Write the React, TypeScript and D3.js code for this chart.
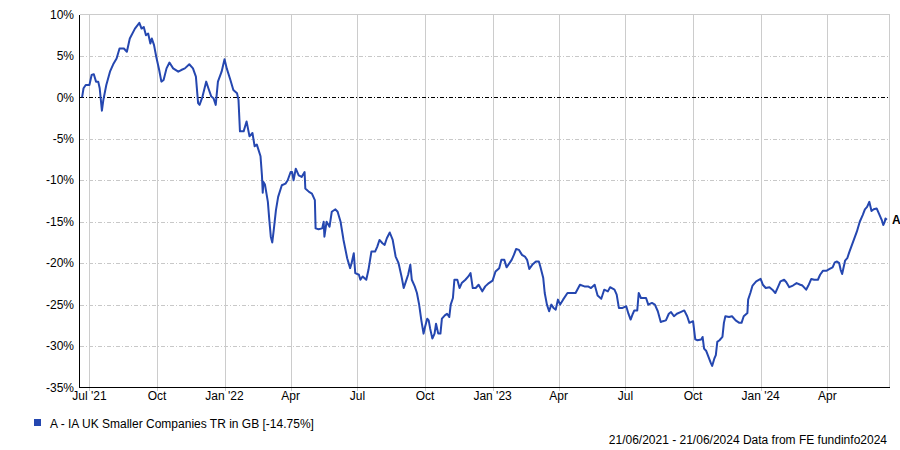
import React from "react";
import * as d3 from "d3";

const dates: string[] = [
  "2021-06-21","2021-06-23","2021-06-26","2021-07-01","2021-07-04","2021-07-07","2021-07-10","2021-07-13","2021-07-15","2021-07-18",
  "2021-07-20","2021-07-24","2021-07-29","2021-08-03","2021-08-07","2021-08-11","2021-08-17","2021-08-21","2021-08-25","2021-09-01",
  "2021-09-07","2021-09-10","2021-09-13","2021-09-16","2021-09-19","2021-09-22","2021-09-24","2021-09-27","2021-09-30","2021-10-04",
  "2021-10-07","2021-10-10","2021-10-14","2021-10-18","2021-10-23","2021-10-30","2021-11-03","2021-11-08","2021-11-14","2021-11-19",
  "2021-11-23","2021-11-26","2021-11-28","2021-12-02","2021-12-07","2021-12-10","2021-12-14","2021-12-17","2021-12-20","2021-12-23",
  "2021-12-28","2022-01-01","2022-01-04","2022-01-09","2022-01-13","2022-01-18","2022-01-20","2022-01-22","2022-01-27","2022-01-31",
  "2022-02-04","2022-02-08","2022-02-11","2022-02-14","2022-02-19","2022-02-21","2022-02-22","2022-02-23","2022-02-25","2022-03-01",
  "2022-03-03","2022-03-05","2022-03-07","2022-03-09","2022-03-12","2022-03-15","2022-03-20","2022-03-25","2022-03-28","2022-04-01",
  "2022-04-03","2022-04-05","2022-04-08","2022-04-12","2022-04-16","2022-04-20","2022-04-21","2022-04-26","2022-04-30","2022-05-04",
  "2022-05-05","2022-05-09","2022-05-14","2022-05-16","2022-05-17","2022-05-20","2022-05-24","2022-05-27","2022-06-01","2022-06-04",
  "2022-06-08","2022-06-12","2022-06-17","2022-06-21","2022-06-23","2022-06-26","2022-06-28","2022-07-03","2022-07-05","2022-07-08",
  "2022-07-13","2022-07-16","2022-07-20","2022-07-25","2022-07-28","2022-07-31","2022-08-04","2022-08-07","2022-08-10","2022-08-14",
  "2022-08-18","2022-08-22","2022-08-26","2022-08-30","2022-09-02","2022-09-05","2022-09-08","2022-09-11","2022-09-13","2022-09-17",
  "2022-09-20","2022-09-23","2022-09-26","2022-09-29","2022-10-01","2022-10-04","2022-10-06","2022-10-08","2022-10-11","2022-10-14",
  "2022-10-16","2022-10-19","2022-10-22","2022-10-24","2022-10-28","2022-10-31","2022-11-03","2022-11-05","2022-11-08","2022-11-10",
  "2022-11-14","2022-11-17","2022-11-20","2022-11-25","2022-11-29","2022-12-02","2022-12-05","2022-12-09","2022-12-13","2022-12-18",
  "2022-12-22","2022-12-27","2023-01-01","2023-01-05","2023-01-10","2023-01-13","2023-01-17","2023-01-20","2023-01-24","2023-01-27",
  "2023-01-30","2023-02-02","2023-02-06","2023-02-10","2023-02-14","2023-02-17","2023-02-20","2023-02-24","2023-03-01","2023-03-05",
  "2023-03-07","2023-03-11","2023-03-13","2023-03-16","2023-03-19","2023-03-22","2023-03-25","2023-03-28","2023-03-31","2023-04-03",
  "2023-04-07","2023-04-13","2023-04-19","2023-04-24","2023-04-30","2023-05-06","2023-05-11","2023-05-15","2023-05-20","2023-05-24",
  "2023-05-29","2023-06-02","2023-06-07","2023-06-10","2023-06-16","2023-06-19","2023-06-22","2023-06-27","2023-07-02","2023-07-05",
  "2023-07-08","2023-07-11","2023-07-13","2023-07-17","2023-07-19","2023-07-22","2023-07-29","2023-08-01","2023-08-06","2023-08-10",
  "2023-08-14","2023-08-18","2023-08-21","2023-08-25","2023-08-29","2023-09-01","2023-09-05","2023-09-09","2023-09-14","2023-09-19",
  "2023-09-23","2023-09-26","2023-10-01","2023-10-04","2023-10-07","2023-10-12","2023-10-14","2023-10-16","2023-10-19","2023-10-22",
  "2023-10-25","2023-10-27","2023-10-30","2023-11-01","2023-11-03","2023-11-06","2023-11-10","2023-11-12","2023-11-14","2023-11-19",
  "2023-11-23","2023-11-28","2023-12-03","2023-12-06","2023-12-09","2023-12-14","2023-12-15","2023-12-18","2023-12-21","2023-12-26",
  "2024-01-01","2024-01-04","2024-01-08","2024-01-13","2024-01-17","2024-01-21","2024-01-24","2024-01-28","2024-02-02","2024-02-05",
  "2024-02-09","2024-02-14","2024-02-19","2024-02-24","2024-02-27","2024-03-03","2024-03-06","2024-03-10","2024-03-14","2024-03-19",
  "2024-03-22","2024-03-26","2024-03-31","2024-04-04","2024-04-08","2024-04-11","2024-04-14","2024-04-17","2024-04-19","2024-04-21",
  "2024-04-25","2024-04-28","2024-05-01","2024-05-06","2024-05-11","2024-05-15","2024-05-19","2024-05-22","2024-05-25","2024-05-28",
  "2024-05-31","2024-06-03","2024-06-07","2024-06-10","2024-06-14","2024-06-16","2024-06-18","2024-06-19","2024-06-21"
];

const values: number[] = [
  0, 1.1, 1.5, 1.5, 2.7, 2.8, 1.9, 1.9, 1.1, -1.6,
  -0.3, 1.5, 3.1, 4.1, 4.7, 5.9, 5.9, 5.5, 7.1, 8.3,
  9.0, 8.3, 8.5, 7.5, 7.7, 6.5, 7.1, 6.3, 4.9, 3.3,
  1.9, 2.1, 3.5, 4.2, 3.5, 3.1, 3.3, 3.5, 4.0, 3.5,
  2.5, -0.7, -0.9, 0.1, 1.9, 1.1, 0.1, -0.1, -0.9, 1.9,
  3.1, 4.6, 3.5, 2.1, 0.9, 0.5, -0.3, -4.1, -4.1, -2.9,
  -4.7, -4.3, -5.9, -5.7, -7.1, -9.5, -11.5, -10.2, -10.5, -12.6,
  -14.8, -16.8, -17.5, -16, -13.6, -12, -10.6, -10.4, -10, -9.0,
  -9.0, -10, -8.6, -9.4, -9.6, -9.0, -11, -11.4, -11.6, -12.4,
  -15.8, -15.9, -15.8, -15, -16.8, -15, -15.6, -13.8, -13.5, -13.8,
  -15, -17.2, -19.4, -20.6, -20, -18.8, -21.2, -21.4, -22, -21.6,
  -22, -20.8, -18.6, -18.6, -18, -17.2, -17.6, -17.8, -17, -16.3,
  -17.2, -19.2, -20, -21.6, -23, -22.2, -21.4, -20.2, -22, -22.8,
  -23.6, -25, -26.9, -28.5, -27.7, -26.7, -26.9, -27.9, -29.1, -28.5,
  -27.3, -28.5, -28.5, -26.7, -26.3, -26.1, -26.5, -25, -24.2, -22,
  -22, -23, -22.4, -22, -21.6, -21.2, -23, -23, -22.6, -23.4,
  -22.8, -22.4, -22.1, -21, -20.6, -19.6, -19.6, -20.5, -20, -19.6,
  -19, -18.3, -18.4, -19, -19.2, -19.6, -20.7, -20.2, -19.8, -19.8,
  -20.4, -21.8, -23.6, -25, -25.8, -25, -25.4, -25.6, -24.4, -25,
  -24.4, -23.6, -23.6, -23.6, -22.6, -22.8, -22.8, -23, -22.6, -23.9,
  -24.3, -23.2, -23.4, -22.9, -23.2, -23.8, -25.4, -25.4, -25.2, -26.1,
  -26.8, -26.1, -25.7, -25.7, -23.6, -24.2, -24.2, -25, -24.8, -25,
  -25.8, -27.1, -27, -26.9, -26.1, -25.9, -26.4, -26.1, -25.9, -25.7,
  -26.4, -27.2, -27, -29.2, -29.3, -29.2, -28.9, -30.3, -30.6, -31.3,
  -32.0, -32.4, -31.5, -31.1, -29.5, -29.3, -28.9, -27.2, -26.4, -26.5,
  -26.4, -26.9, -27.2, -27.2, -26.4, -26, -24.4, -23.6, -22.7, -22.2,
  -21.9, -22.6, -23, -22.9, -23.2, -23.6, -23, -22.2, -22, -22.3,
  -22.9, -22.7, -22.4, -22.6, -22.7, -23.2, -22.7, -21.9, -22, -22,
  -21.4, -20.9, -20.9, -20.7, -20.5, -19.9, -19.8, -20, -20.8, -21.3,
  -19.7, -19.4, -18.6, -17.4, -16.2, -15, -14.2, -13.5, -13.2, -12.6,
  -13.7, -13.5, -13.4, -14, -14.8, -15.4, -15, -14.6, -14.75
];

const yTicks: number[] = [10, 5, 0, -5, -10, -15, -20, -25, -30, -35];
const xTickDates: string[] = [
  "2021-07-01","2021-10-01","2022-01-01","2022-04-01","2022-07-01","2022-10-01",
  "2023-01-01","2023-04-01","2023-07-01","2023-10-01","2024-01-01","2024-04-01"
];
const xTickLabels: string[] = [
  "Jul '21","Oct","Jan '22","Apr","Jul","Oct","Jan '23","Apr","Jul","Oct","Jan '24","Apr"
];
const seriesLabel = "A - IA UK Smaller Companies TR in GB [-14.75%]";
const seriesTag = "A";
const footer = "21/06/2021 - 21/06/2024 Data from FE fundinfo2024";

const W = 900;
const H = 450;
const left = 79.5;
const right = 889.5;
const top = 14.5;
const bottom = 387.5;
const lineColor = "#2547b0";
const font = "'Liberation Sans', Arial, sans-serif";

export default function App() {
  const parse = d3.timeParse("%Y-%m-%d");
  const pts = dates.map((d, i) => ({ d: parse(d) as Date, v: values[i] }));
  const x = d3
    .scaleTime()
    .domain([new Date(2021, 5, 17, 12), new Date(2024, 5, 24, 12)])
    .range([left, right]);
  const y = d3.scaleLinear().domain([-35, 10]).range([bottom, top]);
  const line = d3
    .line<{ d: Date; v: number }>()
    .x((p) => x(p.d))
    .y((p) => y(p.v))
    .curve(d3.curveLinear);
  const last = pts[pts.length - 1];

  return (
    <svg
      width={W}
      height={H}
      style={{ position: "absolute", left: 0, top: 0, background: "#fff" }}
      fontFamily={font}
      fontSize={12}
    >
      <rect x={0} y={0} width={W} height={H} fill="#fff" />
      {yTicks.map((t) =>
        t === 10 || t === -35 || t === 0 ? null : (
          <line
            key={"h" + t}
            x1={left}
            x2={right}
            y1={Math.round(y(t)) + 0.5}
            y2={Math.round(y(t)) + 0.5}
            stroke="#c8c8c8"
            strokeDasharray="4,2,1,2"
            shapeRendering="crispEdges"
          />
        )
      )}
      {xTickDates.map((s) => {
        const xx = Math.round(x(parse(s) as Date)) + 0.5;
        return (
          <g key={"v" + s}>
            <line x1={xx} x2={xx} y1={top} y2={bottom} stroke="#cccccc" shapeRendering="crispEdges" />
            <line x1={xx} x2={xx} y1={bottom} y2={bottom + 3} stroke="#cccccc" shapeRendering="crispEdges" />
          </g>
        );
      })}
      <line x1={left} x2={right} y1={top} y2={top} stroke="#cccccc" shapeRendering="crispEdges" />
      <line x1={right} x2={right} y1={top} y2={bottom} stroke="#cccccc" shapeRendering="crispEdges" />
      <line
        x1={left}
        x2={right}
        y1={Math.round(y(0)) + 0.5}
        y2={Math.round(y(0)) + 0.5}
        stroke="#000"
        strokeDasharray="4,2,1,2"
        shapeRendering="crispEdges"
      />
      <line x1={left} x2={left} y1={top} y2={bottom} stroke="#000" shapeRendering="crispEdges" />
      <line x1={left} x2={right} y1={bottom} y2={bottom} stroke="#000" shapeRendering="crispEdges" />
      {yTicks.map((t) => (
        <text key={"yl" + t} x={74} y={y(t)} dy="0.35em" textAnchor="end" fill="#000">
          {t + "%"}
        </text>
      ))}
      {xTickDates.map((s, i) => (
        <text key={"xl" + s} x={x(parse(s) as Date)} y={400} textAnchor="middle" fill="#000">
          {xTickLabels[i]}
        </text>
      ))}
      <path d={line(pts) || ""} fill="none" stroke={lineColor} strokeWidth={2} strokeLinejoin="round" />
      <text x={x(last.d) + 5} y={y(last.v)} dy="0.35em" fontWeight="bold" fill="#000">
        {seriesTag}
      </text>
      <rect x={34} y={419} width={7} height={7} fill={lineColor} />
      <text x={50} y={427.5} fill="#000">
        {seriesLabel}
      </text>
      <text x={887} y={444} textAnchor="end" fill="#000">
        {footer}
      </text>
    </svg>
  );
}
